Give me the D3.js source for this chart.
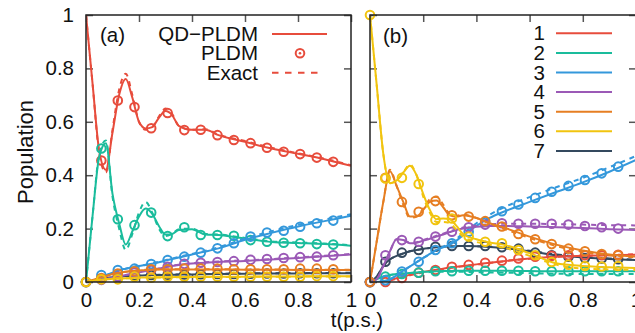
<!DOCTYPE html>
<html>
<head>
<meta charset="utf-8">
<script src="https://cdn.jsdelivr.net/npm/d3@7"></script>
<style>
  body { margin: 0; background: #fff; }
  svg text { font-family: "Liberation Sans", Arial, sans-serif; fill: #111; }
</style>
</head>
<body>
<svg id="chart" width="635" height="333"></svg>
<script>
// time grids (ps)
var tLine = [0, 0.025, 0.05, 0.075, 0.1, 0.125, 0.15, 0.175, 0.2, 0.225, 0.25, 0.275, 0.3, 0.325, 0.35, 0.4, 0.45, 0.5, 0.6, 0.7, 0.8, 0.9, 1.0];
var tDots = [0, 0.058, 0.12, 0.183, 0.246, 0.308, 0.371, 0.433, 0.496, 0.558, 0.621, 0.683, 0.746, 0.808, 0.871, 0.933];

var states = ["1", "2", "3", "4", "5", "6", "7"];
var xTicks = [0, 0.2, 0.4, 0.6, 0.8, 1];
var yTicks = [0, 0.2, 0.4, 0.6, 0.8, 1];
var methods = ["QD\u2212PLDM", "PLDM", "Exact"];

// panel (a)
var a1Qd = [1.0, 0.74, 0.49, 0.42, 0.56, 0.70, 0.76, 0.69, 0.60, 0.575, 0.58, 0.615, 0.64, 0.625, 0.585, 0.57, 0.57, 0.55, 0.525, 0.50, 0.48, 0.46, 0.435];
var a1Ex = [1.0, 0.74, 0.48, 0.41, 0.57, 0.72, 0.78, 0.70, 0.60, 0.57, 0.58, 0.62, 0.65, 0.63, 0.585, 0.57, 0.572, 0.552, 0.528, 0.503, 0.482, 0.462, 0.437];
var a1Pl = [null, 0.455, 0.68, 0.655, 0.576, 0.633, 0.569, 0.57, 0.55, 0.532, 0.52, 0.503, 0.488, 0.479, 0.466, 0.45];

var a2Qd = [0, 0.25, 0.47, 0.52, 0.33, 0.22, 0.14, 0.19, 0.245, 0.275, 0.255, 0.21, 0.178, 0.18, 0.195, 0.198, 0.178, 0.176, 0.163, 0.15, 0.146, 0.142, 0.136];
var a2Ex = [0, 0.25, 0.48, 0.53, 0.32, 0.20, 0.12, 0.18, 0.26, 0.30, 0.26, 0.20, 0.172, 0.18, 0.198, 0.20, 0.18, 0.178, 0.165, 0.152, 0.148, 0.144, 0.138];
var a2Pl = [0, 0.5, 0.235, 0.213, 0.26, 0.172, 0.205, 0.176, 0.176, 0.173, 0.157, 0.151, 0.147, 0.145, 0.142, 0.14];

var a3Qd = [0, 0.005, 0.015, 0.025, 0.035, 0.045, 0.05, 0.055, 0.06, 0.064, 0.068, 0.074, 0.08, 0.086, 0.092, 0.103, 0.114, 0.126, 0.158, 0.184, 0.208, 0.228, 0.248];
var a3Ex = [0, 0.005, 0.015, 0.025, 0.034, 0.043, 0.05, 0.056, 0.061, 0.065, 0.07, 0.076, 0.082, 0.088, 0.094, 0.105, 0.117, 0.13, 0.163, 0.19, 0.214, 0.234, 0.254];
var a3Pl = [0, 0.026, 0.045, 0.05, 0.067, 0.082, 0.095, 0.11, 0.126, 0.145, 0.17, 0.185, 0.192, 0.207, 0.22, 0.23];

var a4Qd = [0, 0.003, 0.007, 0.011, 0.016, 0.021, 0.026, 0.031, 0.036, 0.041, 0.046, 0.05, 0.055, 0.06, 0.064, 0.069, 0.072, 0.075, 0.079, 0.084, 0.09, 0.096, 0.103];
var a4Ex = [0, 0.003, 0.007, 0.011, 0.016, 0.021, 0.026, 0.031, 0.036, 0.041, 0.046, 0.051, 0.056, 0.061, 0.065, 0.07, 0.074, 0.077, 0.081, 0.086, 0.092, 0.098, 0.105];
var a4Pl = [0, 0.008, 0.02, 0.035, 0.045, 0.057, 0.068, 0.072, 0.075, 0.078, 0.083, 0.086, 0.09, 0.093, 0.095, 0.1];

var a5Qd = [0, 0.008, 0.015, 0.022, 0.03, 0.034, 0.038, 0.041, 0.043, 0.045, 0.046, 0.047, 0.047, 0.047, 0.047, 0.047, 0.047, 0.047, 0.046, 0.046, 0.045, 0.045, 0.045];
var a5Ex = [0, 0.008, 0.015, 0.022, 0.029, 0.034, 0.038, 0.041, 0.044, 0.046, 0.047, 0.048, 0.048, 0.048, 0.048, 0.048, 0.048, 0.048, 0.047, 0.047, 0.046, 0.046, 0.046];
var a5Pl = [0, 0.015, 0.032, 0.04, 0.048, 0.048, 0.05, 0.05, 0.05, 0.048, 0.048, 0.048, 0.048, 0.05, 0.05, 0.048];

var a6Qd = [0, 0.004, 0.008, 0.01, 0.012, 0.013, 0.014, 0.015, 0.016, 0.017, 0.017, 0.018, 0.018, 0.018, 0.019, 0.019, 0.02, 0.02, 0.02, 0.021, 0.021, 0.022, 0.022];
var a6Ex = [0, 0.004, 0.008, 0.01, 0.012, 0.013, 0.014, 0.015, 0.016, 0.016, 0.017, 0.017, 0.017, 0.018, 0.018, 0.018, 0.019, 0.019, 0.019, 0.02, 0.02, 0.021, 0.021];
var a6Pl = [0, 0.01, 0.01, 0.02, 0.016, 0.02, 0.02, 0.02, 0.02, 0.02, 0.02, 0.02, 0.02, 0.02, 0.022, 0.022];

var a7Qd = [0, 0.005, 0.01, 0.014, 0.018, 0.02, 0.022, 0.023, 0.024, 0.025, 0.026, 0.026, 0.027, 0.027, 0.028, 0.028, 0.029, 0.03, 0.031, 0.032, 0.032, 0.033, 0.033];
var a7Ex = [0, 0.005, 0.01, 0.014, 0.018, 0.02, 0.022, 0.023, 0.024, 0.025, 0.026, 0.027, 0.027, 0.028, 0.028, 0.029, 0.03, 0.031, 0.032, 0.033, 0.034, 0.034, 0.035];
var a7Pl = [0, 0.012, 0.02, 0.024, 0.026, 0.027, 0.028, 0.029, 0.03, 0.03, 0.031, 0.032, 0.032, 0.033, 0.033, 0.033];

// panel (b)
var b1Qd = [0, 0.0, 0.003, 0.008, 0.014, 0.02, 0.027, 0.033, 0.038, 0.042, 0.046, 0.05, 0.054, 0.057, 0.06, 0.066, 0.072, 0.078, 0.088, 0.095, 0.098, 0.1, 0.102];
var b1Ex = [0, 0.0, 0.002, 0.006, 0.012, 0.018, 0.025, 0.031, 0.036, 0.04, 0.044, 0.048, 0.052, 0.056, 0.059, 0.065, 0.071, 0.077, 0.087, 0.094, 0.098, 0.101, 0.104];
var b1Pl = [0, 0.0, 0.015, 0.035, 0.045, 0.057, 0.064, 0.072, 0.08, 0.088, 0.095, 0.098, 0.1, 0.1, 0.1, 0.102];

var b2Qd = [0, 0.01, 0.02, 0.026, 0.03, 0.032, 0.034, 0.036, 0.038, 0.039, 0.04, 0.041, 0.041, 0.042, 0.042, 0.042, 0.042, 0.042, 0.041, 0.04, 0.04, 0.04, 0.04];
var b2Ex = [0, 0.01, 0.02, 0.026, 0.03, 0.032, 0.034, 0.035, 0.036, 0.037, 0.038, 0.038, 0.038, 0.038, 0.038, 0.037, 0.036, 0.035, 0.033, 0.031, 0.03, 0.03, 0.03];
var b2Pl = [0, 0.02, 0.03, 0.035, 0.04, 0.04, 0.042, 0.042, 0.042, 0.042, 0.04, 0.04, 0.04, 0.04, 0.04, 0.04];

var b3Qd = [0, 0.0, 0.003, 0.01, 0.025, 0.042, 0.058, 0.074, 0.09, 0.105, 0.12, 0.13, 0.14, 0.155, 0.175, 0.21, 0.24, 0.262, 0.3, 0.337, 0.373, 0.413, 0.457];
var b3Ex = [0, 0.0, 0.003, 0.01, 0.025, 0.042, 0.058, 0.074, 0.09, 0.105, 0.12, 0.132, 0.145, 0.162, 0.182, 0.22, 0.252, 0.278, 0.318, 0.355, 0.39, 0.43, 0.472];
var b3Pl = [0, 0.007, 0.039, 0.076, 0.12, 0.145, 0.188, 0.225, 0.265, 0.29, 0.315, 0.338, 0.36, 0.382, 0.407, 0.432];

var b4Qd = [0, 0.01, 0.06, 0.115, 0.16, 0.157, 0.145, 0.147, 0.155, 0.162, 0.17, 0.178, 0.187, 0.195, 0.2, 0.207, 0.21, 0.21, 0.208, 0.205, 0.202, 0.198, 0.195];
var b4Ex = [0, 0.01, 0.06, 0.115, 0.16, 0.158, 0.147, 0.149, 0.157, 0.165, 0.173, 0.181, 0.19, 0.198, 0.204, 0.212, 0.216, 0.218, 0.218, 0.217, 0.215, 0.213, 0.212];
var b4Pl = [0, 0.1, 0.157, 0.151, 0.17, 0.188, 0.205, 0.215, 0.22, 0.218, 0.218, 0.218, 0.215, 0.21, 0.205, 0.2];

var b5Qd = [0, 0.15, 0.3, 0.415, 0.36, 0.3, 0.245, 0.245, 0.27, 0.3, 0.305, 0.28, 0.25, 0.245, 0.25, 0.24, 0.22, 0.205, 0.17, 0.14, 0.118, 0.103, 0.095];
var b5Ex = [0, 0.15, 0.3, 0.42, 0.36, 0.29, 0.24, 0.245, 0.275, 0.31, 0.32, 0.29, 0.255, 0.248, 0.252, 0.24, 0.218, 0.2, 0.165, 0.135, 0.113, 0.1, 0.092];
var b5Pl = [0, 0.39, 0.3, 0.263, 0.303, 0.25, 0.245, 0.228, 0.208, 0.18, 0.16, 0.142, 0.125, 0.115, 0.105, 0.1];

var b6Qd = [1.0, 0.74, 0.48, 0.37, 0.38, 0.41, 0.435, 0.40, 0.33, 0.27, 0.235, 0.238, 0.235, 0.21, 0.18, 0.16, 0.148, 0.14, 0.108, 0.07, 0.06, 0.055, 0.052];
var b6Ex = [1.0, 0.74, 0.48, 0.37, 0.38, 0.41, 0.44, 0.40, 0.32, 0.26, 0.225, 0.225, 0.22, 0.195, 0.17, 0.15, 0.14, 0.13, 0.098, 0.065, 0.05, 0.047, 0.045];
var b6Pl = [1.0, 0.388, 0.39, 0.367, 0.232, 0.238, 0.17, 0.151, 0.145, 0.12, 0.1, 0.075, 0.065, 0.06, 0.058, 0.06];

var b7Qd = [0, 0.02, 0.06, 0.085, 0.098, 0.107, 0.115, 0.12, 0.124, 0.127, 0.13, 0.132, 0.133, 0.134, 0.135, 0.134, 0.131, 0.127, 0.115, 0.1, 0.092, 0.086, 0.082];
var b7Ex = [0, 0.02, 0.06, 0.085, 0.098, 0.107, 0.115, 0.12, 0.124, 0.127, 0.13, 0.132, 0.133, 0.134, 0.135, 0.134, 0.132, 0.128, 0.117, 0.103, 0.094, 0.088, 0.084];
var b7Pl = [0, 0.076, 0.11, 0.12, 0.132, 0.135, 0.135, 0.135, 0.13, 0.125, 0.11, 0.1, 0.095, 0.09, 0.088, 0.085];

var palette = ["#e74c3c", "#1abc9c", "#3498db", "#9b59b6", "#e67e22", "#f1c40f", "#34495e"];
var color = d3.scaleOrdinal().domain(states).range(palette);

// state 7 is drawn first so the small yellow/orange markers stay on top
var panelA = [
  { s: "7", qd: a7Qd, ex: a7Ex, pl: a7Pl },
  { s: "1", qd: a1Qd, ex: a1Ex, pl: a1Pl }, { s: "2", qd: a2Qd, ex: a2Ex, pl: a2Pl },
  { s: "3", qd: a3Qd, ex: a3Ex, pl: a3Pl }, { s: "4", qd: a4Qd, ex: a4Ex, pl: a4Pl },
  { s: "5", qd: a5Qd, ex: a5Ex, pl: a5Pl }, { s: "6", qd: a6Qd, ex: a6Ex, pl: a6Pl }
];
var panelB = [
  { s: "7", qd: b7Qd, ex: b7Ex, pl: b7Pl },
  { s: "1", qd: b1Qd, ex: b1Ex, pl: b1Pl }, { s: "2", qd: b2Qd, ex: b2Ex, pl: b2Pl },
  { s: "3", qd: b3Qd, ex: b3Ex, pl: b3Pl }, { s: "4", qd: b4Qd, ex: b4Ex, pl: b4Pl },
  { s: "5", qd: b5Qd, ex: b5Ex, pl: b5Pl }, { s: "6", qd: b6Qd, ex: b6Ex, pl: b6Pl }
];

var svg = d3.select("#chart");
var plotTop = 15, plotH = 267, fs = 20.5, tickLen = 7;

function drawPanel(left, w, series, id, showY) {
  var x = d3.scaleLinear().domain([0, 1]).range([0, w]);
  var y = d3.scaleLinear().domain([0, 1]).range([plotH, 0]);
  var g = svg.append("g").attr("transform", "translate(" + left + "," + plotTop + ")");

  g.append("clipPath").attr("id", "clip" + id)
    .append("rect").attr("width", w).attr("height", plotH);

  // axes with inward ticks on all four sides
  g.append("g").attr("transform", "translate(0," + plotH + ")")
    .call(d3.axisBottom(x).tickValues(xTicks).tickSizeInner(-tickLen).tickSizeOuter(0).tickPadding(10)
      .tickFormat(function(d) { return d3.format("")(d); }));
  g.append("g")
    .call(d3.axisTop(x).tickValues(xTicks).tickSizeInner(-tickLen).tickSizeOuter(0).tickFormat(""));
  g.append("g")
    .call(d3.axisLeft(y).tickValues(yTicks).tickSizeInner(-tickLen).tickSizeOuter(0).tickPadding(12)
      .tickFormat(showY ? function(d) { return d3.format("")(d); } : ""));
  g.append("g").attr("transform", "translate(" + w + ",0)")
    .call(d3.axisRight(y).tickValues(yTicks).tickSizeInner(-tickLen).tickSizeOuter(0).tickFormat(""));

  g.selectAll(".domain").remove();
  g.selectAll(".tick line").attr("stroke", "#555").attr("stroke-width", 1.5);
  g.selectAll(".tick text").attr("font-size", fs).attr("font-family", "Liberation Sans, Arial, sans-serif").attr("fill", "#111");

  var lineGen = function(vals) {
    return d3.line().curve(d3.curveMonotoneX)
      .x(function(d, i) { return x(tLine[i]); })
      .y(function(d) { return y(d); })(vals);
  };

  var plot = g.append("g");
  series.forEach(function(sr) {
    var c = color(sr.s);
    plot.append("path").attr("clip-path", "url(#clip" + id + ")")
      .attr("d", lineGen(sr.qd)).attr("fill", "none")
      .attr("stroke", c).attr("stroke-width", 2);
    plot.append("path").attr("clip-path", "url(#clip" + id + ")")
      .attr("d", lineGen(sr.ex)).attr("fill", "none")
      .attr("stroke", c).attr("stroke-width", 2).attr("stroke-dasharray", "5,5");
    var pts = sr.pl.map(function(v, i) { return { t: tDots[i], v: v }; })
      .filter(function(p) { return p.v !== null; });
    plot.selectAll(null).data(pts).enter().append("circle")
      .attr("cx", function(d) { return x(d.t); })
      .attr("cy", function(d) { return y(d.v); })
      .attr("r", 4.3).attr("fill", "none").attr("stroke", c).attr("stroke-width", 2);
  });

  // frame
  g.append("rect").attr("width", w).attr("height", plotH)
    .attr("fill", "none").attr("stroke", "#222").attr("stroke-width", 1.5);

  return g;
}

drawPanel(86, 265, panelA, "a", true);
drawPanel(370, 266, panelB, "b", false);

// panel tags
svg.append("text").attr("x", 100).attr("y", 42).attr("font-size", fs).text("(a)");
svg.append("text").attr("x", 383).attr("y", 43).attr("font-size", fs).text("(b)");

// axis titles
svg.append("text").attr("x", 357).attr("y", 327).attr("text-anchor", "middle")
  .attr("font-size", fs).text("t(p.s.)");
svg.append("text").attr("transform", "translate(33,152) rotate(-90)")
  .attr("text-anchor", "middle").attr("font-size", 22).text("Population");

// legend (a): methods
var legA = svg.append("g");
var rowA = [34, 53.3, 72.7];
methods.forEach(function(m, i) {
  legA.append("text").attr("x", 258).attr("y", rowA[i]).attr("dy", "0.35em")
    .attr("text-anchor", "end").attr("font-size", fs).text(m);
});
legA.append("line").attr("x1", 272).attr("x2", 327).attr("y1", rowA[0]).attr("y2", rowA[0])
  .attr("stroke", color("1")).attr("stroke-width", 2);
legA.append("circle").attr("cx", 300).attr("cy", rowA[1]).attr("r", 4.3)
  .attr("fill", "none").attr("stroke", color("1")).attr("stroke-width", 2);
legA.append("circle").attr("cx", 300).attr("cy", rowA[1]).attr("r", 1.3).attr("fill", color("1"));
legA.append("line").attr("x1", 272).attr("x2", 322).attr("y1", rowA[2]).attr("y2", rowA[2])
  .attr("stroke", color("1")).attr("stroke-width", 2).attr("stroke-dasharray", "6.5,6.5");

// legend (b): states
var legB = svg.append("g");
states.forEach(function(s, i) {
  var yy = 33.3 + i * 19.6;
  legB.append("text").attr("x", 545).attr("y", yy).attr("dy", "0.35em")
    .attr("text-anchor", "end").attr("font-size", fs).text(s);
  legB.append("line").attr("x1", 556).attr("x2", 612).attr("y1", yy).attr("y2", yy)
    .attr("stroke", color(s)).attr("stroke-width", 2);
});
</script>
</body>
</html>
